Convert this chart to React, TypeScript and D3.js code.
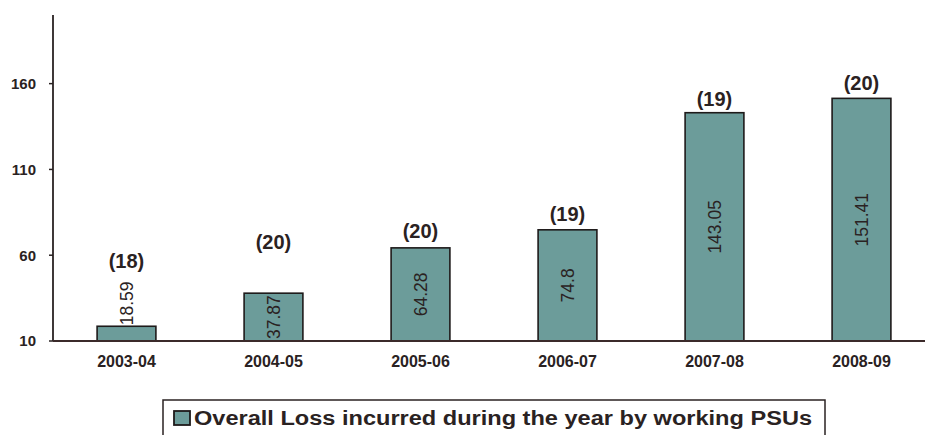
import React, { useEffect, useRef } from "react";
import * as d3 from "d3";

const years = ["2003-04", "2004-05", "2005-06", "2006-07", "2007-08", "2008-09"];
const lossValues = [18.59, 37.87, 64.28, 74.8, 143.05, 151.41];
const psuCounts = [18, 20, 20, 19, 19, 20];
const yTicks = [10, 60, 110, 160];
const legendLabel = "Overall Loss incurred during the year by working PSUs";

const W = 925;
const H = 435;
const FONT = "'Liberation Sans', Arial, sans-serif";
const BAR_FILL = "#6c9c9a";
const INK = "#2a2222";

// vertical gap (px) between each bar top and its PSU count label
const countLift = [58, 44, 10, 9, 7, 8];

export default function App() {
  const ref = useRef<SVGSVGElement | null>(null);

  useEffect(() => {
    const svg = d3.select(ref.current);
    svg.selectAll("*").remove();

    const x = d3.scaleBand<string>().domain(years).range([53, 935]).paddingInner(0.6).paddingOuter(0.3);
    const y = d3.scaleLinear().domain([10, 200]).range([341, 15]);

    const data = years.map((yr, i) => ({ yr, v: lossValues[i], n: psuCounts[i], i }));

    // bars
    svg
      .append("g")
      .selectAll("rect")
      .data(data)
      .join("rect")
      .attr("x", (d) => x(d.yr)!)
      .attr("y", (d) => y(d.v))
      .attr("width", x.bandwidth())
      .attr("height", (d) => y(10) - y(d.v))
      .attr("fill", BAR_FILL)
      .attr("stroke", "#1e1a1a")
      .attr("stroke-width", 1.6);

    // y axis
    const yAxis = svg.append("g");
    yAxis
      .append("line")
      .attr("x1", 53)
      .attr("x2", 53)
      .attr("y1", 15)
      .attr("y2", y(10))
      .attr("stroke", INK)
      .attr("stroke-width", 1.8);
    yAxis
      .selectAll("line.tick")
      .data(yTicks)
      .join("line")
      .attr("class", "tick")
      .attr("x1", 49)
      .attr("x2", 53)
      .attr("y1", (d) => y(d))
      .attr("y2", (d) => y(d))
      .attr("stroke", INK)
      .attr("stroke-width", 1.5);
    yAxis
      .selectAll("text")
      .data(yTicks)
      .join("text")
      .attr("x", 36)
      .attr("y", (d) => y(d))
      .attr("dy", "0.36em")
      .attr("text-anchor", "end")
      .attr("font-family", FONT)
      .attr("font-weight", "bold")
      .attr("font-size", 15)
      .attr("fill", INK)
      .text((d) => d);

    // x axis
    svg
      .append("line")
      .attr("x1", 53)
      .attr("x2", W)
      .attr("y1", y(10))
      .attr("y2", y(10))
      .attr("stroke", "#3b2a2a")
      .attr("stroke-width", 1.8);
    svg
      .append("g")
      .selectAll("text")
      .data(years)
      .join("text")
      .attr("x", (d) => x(d)! + x.bandwidth() / 2)
      .attr("y", 367)
      .attr("text-anchor", "middle")
      .attr("font-family", FONT)
      .attr("font-weight", "bold")
      .attr("font-size", 16)
      .attr("fill", INK)
      .text((d) => d);

    // value labels, rotated; the short first bar carries its label above it
    svg
      .append("g")
      .selectAll("text")
      .data(data)
      .join("text")
      .attr("transform", (d) => {
        const cx = x(d.yr)! + x.bandwidth() / 2;
        const top = y(d.v);
        const inside = y(10) - top > 45;
        const cy = inside ? (top + y(10)) / 2 : top - 1;
        return `translate(${cx},${cy}) rotate(-90)`;
      })
      .attr("text-anchor", (d) => (y(10) - y(d.v) > 45 ? "middle" : "start"))
      .attr("dy", "0.36em")
      .attr("font-family", FONT)
      .attr("font-size", 17.5)
      .attr("fill", INK)
      .text((d) => String(d.v));

    // PSU count labels
    svg
      .append("g")
      .selectAll("text")
      .data(data)
      .join("text")
      .attr("x", (d) => x(d.yr)! + x.bandwidth() / 2)
      .attr("y", (d) => y(d.v) - countLift[d.i])
      .attr("text-anchor", "middle")
      .attr("font-family", FONT)
      .attr("font-weight", "bold")
      .attr("font-size", 20)
      .attr("fill", INK)
      .text((d) => `(${d.n})`);

    // legend
    const lg = svg.append("g");
    lg.append("rect")
      .attr("x", 163)
      .attr("y", 400)
      .attr("width", 662)
      .attr("height", 50)
      .attr("fill", "none")
      .attr("stroke", INK)
      .attr("stroke-width", 1.5);
    lg.append("rect")
      .attr("x", 174)
      .attr("y", 411)
      .attr("width", 16)
      .attr("height", 14)
      .attr("fill", BAR_FILL)
      .attr("stroke", "#1e1a1a")
      .attr("stroke-width", 1.8);
    lg.append("text")
      .attr("x", 194)
      .attr("y", 425)
      .attr("font-family", FONT)
      .attr("font-weight", "bold")
      .attr("font-size", 20)
      .attr("textLength", 618)
      .attr("lengthAdjust", "spacingAndGlyphs")
      .attr("fill", INK)
      .text(legendLabel);
  }, []);

  return (
    <svg
      ref={ref}
      width={W}
      height={H}
      style={{ position: "absolute", left: 0, top: 0, background: "#fff" }}
    />
  );
}
